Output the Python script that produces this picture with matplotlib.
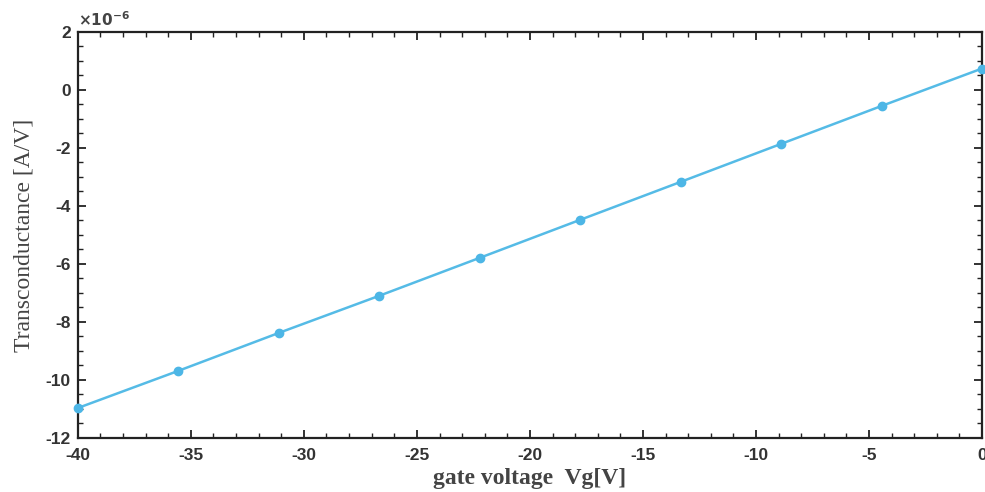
import numpy as np
import matplotlib
matplotlib.use("Agg")
import matplotlib.pyplot as plt
from matplotlib.ticker import MultipleLocator

plt.rcParams["axes.unicode_minus"] = False

gate_voltage = [-40.0, -35.56, -31.11, -26.67, -22.22, -17.78, -13.33, -8.89, -4.44, 0.0]
transconductance_e6 = [-10.97, -9.69, -8.38, -7.10, -5.79, -4.48, -3.17, -1.86, -0.55, 0.74]
x_ticks = [-40, -35, -30, -25, -20, -15, -10, -5, 0]
y_ticks = [2, 0, -2, -4, -6, -8, -10, -12]

fig = plt.figure(figsize=(9.85, 4.92), dpi=100)
ax = fig.add_axes([0.079, 0.110, 0.918, 0.825])

ax.plot(gate_voltage, transconductance_e6, color="#55BBE6", lw=1.8,
        marker="o", ms=6, mfc="#4DB6E6", mec="#4DB6E6", clip_on=False, zorder=3)

ax.set_xlim(-40, 0)
ax.set_ylim(-12, 2)
ax.set_xticks(x_ticks)
ax.set_yticks(y_ticks)
ax.xaxis.set_minor_locator(MultipleLocator(1))
ax.yaxis.set_minor_locator(MultipleLocator(0.5))
ax.tick_params(which="both", direction="in", top=True, right=True, color="#222222")
ax.tick_params(which="major", length=6, width=1.3)
ax.tick_params(which="minor", length=3.5, width=1.0)
for s in ax.spines.values():
    s.set_linewidth(1.6)
    s.set_color("#222222")

for lab in ax.get_xticklabels() + ax.get_yticklabels():
    lab.set_fontfamily("Liberation Sans")
    lab.set_fontweight("bold")
    lab.set_fontsize(12.5)
    lab.set_color("#333333")
ax.tick_params(axis="x", pad=7)
ax.tick_params(axis="y", pad=5)

ax.set_xlabel("gate voltage  Vg[V]", fontfamily="Liberation Serif", fontsize=17,
              fontweight="bold", color="#444444", labelpad=4)
ax.set_ylabel("Transconductance [A/V]", fontfamily="Liberation Serif", fontsize=17,
              color="#444444", labelpad=8)

ax.text(0.0, 1.008, r"$\mathbf{\times10^{-6}}$", transform=ax.transAxes, fontsize=11,
        color="#444444", ha="left", va="bottom")

fig.savefig("out.png", dpi=100)
